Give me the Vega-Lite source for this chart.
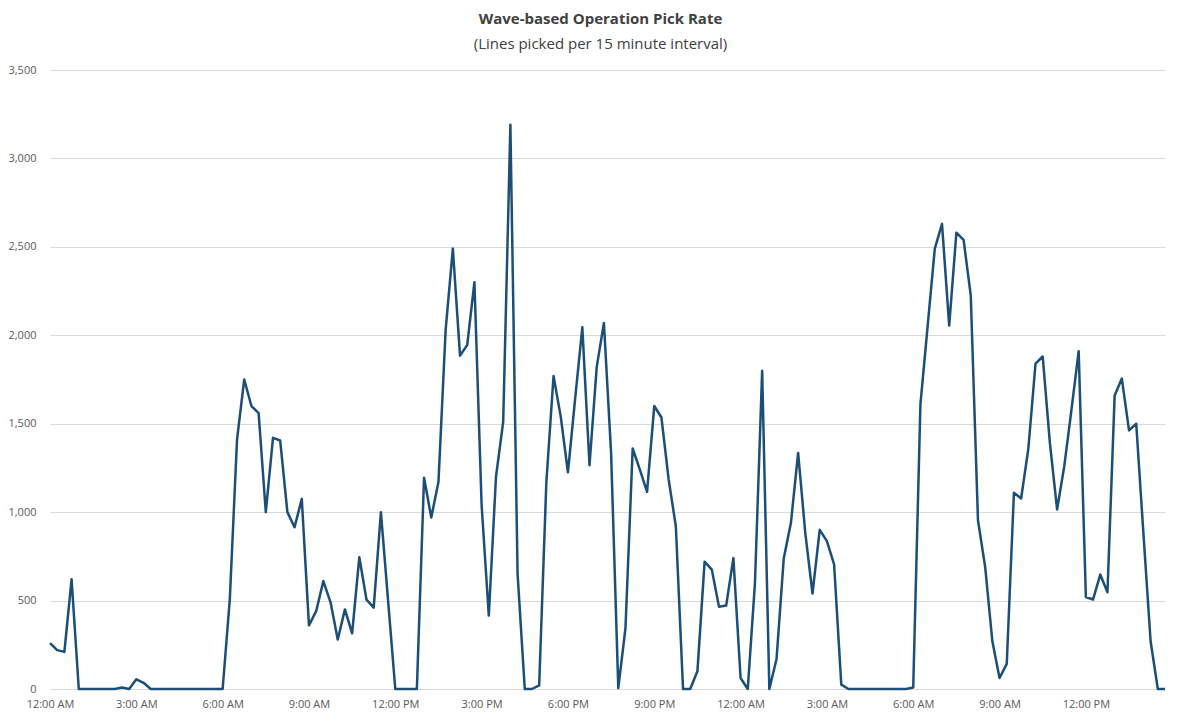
{
  "$schema": "https://vega.github.io/schema/vega-lite/v6.json",
  "width": 1115,
  "height": 619,
  "autosize": {"type": "none"},
  "padding": {"left": 50, "top": 70, "right": 35, "bottom": 33},
  "background": "white",
  "title": {
    "text": "Wave-based Operation Pick Rate",
    "subtitle": "(Lines picked per 15 minute interval)",
    "anchor": "middle",
    "frame": "group",
    "dx": -7,
    "font": "Open Sans",
    "fontSize": 15,
    "fontWeight": "bold",
    "color": "#404040",
    "subtitleFont": "Open Sans",
    "subtitleFontSize": 15,
    "subtitleColor": "#404040",
    "subtitlePadding": 10,
    "offset": 12
  },
  "data": {
    "values": [
      {"time": "2024-01-01T00:00:00Z", "lines": 260},
      {"time": "2024-01-01T00:15:00Z", "lines": 220},
      {"time": "2024-01-01T00:30:00Z", "lines": 210},
      {"time": "2024-01-01T00:45:00Z", "lines": 620},
      {"time": "2024-01-01T01:00:00Z", "lines": 0},
      {"time": "2024-01-01T01:15:00Z", "lines": 0},
      {"time": "2024-01-01T01:30:00Z", "lines": 0},
      {"time": "2024-01-01T01:45:00Z", "lines": 0},
      {"time": "2024-01-01T02:00:00Z", "lines": 0},
      {"time": "2024-01-01T02:15:00Z", "lines": 0},
      {"time": "2024-01-01T02:30:00Z", "lines": 8},
      {"time": "2024-01-01T02:45:00Z", "lines": 0},
      {"time": "2024-01-01T03:00:00Z", "lines": 55},
      {"time": "2024-01-01T03:15:00Z", "lines": 35},
      {"time": "2024-01-01T03:30:00Z", "lines": 0},
      {"time": "2024-01-01T03:45:00Z", "lines": 0},
      {"time": "2024-01-01T04:00:00Z", "lines": 0},
      {"time": "2024-01-01T04:15:00Z", "lines": 0},
      {"time": "2024-01-01T04:30:00Z", "lines": 0},
      {"time": "2024-01-01T04:45:00Z", "lines": 0},
      {"time": "2024-01-01T05:00:00Z", "lines": 0},
      {"time": "2024-01-01T05:15:00Z", "lines": 0},
      {"time": "2024-01-01T05:30:00Z", "lines": 0},
      {"time": "2024-01-01T05:45:00Z", "lines": 0},
      {"time": "2024-01-01T06:00:00Z", "lines": 0},
      {"time": "2024-01-01T06:15:00Z", "lines": 510},
      {"time": "2024-01-01T06:30:00Z", "lines": 1410},
      {"time": "2024-01-01T06:45:00Z", "lines": 1750},
      {"time": "2024-01-01T07:00:00Z", "lines": 1600},
      {"time": "2024-01-01T07:15:00Z", "lines": 1560},
      {"time": "2024-01-01T07:30:00Z", "lines": 1000},
      {"time": "2024-01-01T07:45:00Z", "lines": 1420},
      {"time": "2024-01-01T08:00:00Z", "lines": 1405},
      {"time": "2024-01-01T08:15:00Z", "lines": 1000},
      {"time": "2024-01-01T08:30:00Z", "lines": 915},
      {"time": "2024-01-01T08:45:00Z", "lines": 1075},
      {"time": "2024-01-01T09:00:00Z", "lines": 360},
      {"time": "2024-01-01T09:15:00Z", "lines": 440},
      {"time": "2024-01-01T09:30:00Z", "lines": 610},
      {"time": "2024-01-01T09:45:00Z", "lines": 490},
      {"time": "2024-01-01T10:00:00Z", "lines": 280},
      {"time": "2024-01-01T10:15:00Z", "lines": 450},
      {"time": "2024-01-01T10:30:00Z", "lines": 315},
      {"time": "2024-01-01T10:45:00Z", "lines": 745},
      {"time": "2024-01-01T11:00:00Z", "lines": 505},
      {"time": "2024-01-01T11:15:00Z", "lines": 460},
      {"time": "2024-01-01T11:30:00Z", "lines": 1000},
      {"time": "2024-01-01T11:45:00Z", "lines": 500},
      {"time": "2024-01-01T12:00:00Z", "lines": 0},
      {"time": "2024-01-01T12:15:00Z", "lines": 0},
      {"time": "2024-01-01T12:30:00Z", "lines": 0},
      {"time": "2024-01-01T12:45:00Z", "lines": 0},
      {"time": "2024-01-01T13:00:00Z", "lines": 1195},
      {"time": "2024-01-01T13:15:00Z", "lines": 970},
      {"time": "2024-01-01T13:30:00Z", "lines": 1170},
      {"time": "2024-01-01T13:45:00Z", "lines": 2030},
      {"time": "2024-01-01T14:00:00Z", "lines": 2490},
      {"time": "2024-01-01T14:15:00Z", "lines": 1885},
      {"time": "2024-01-01T14:30:00Z", "lines": 1945},
      {"time": "2024-01-01T14:45:00Z", "lines": 2300},
      {"time": "2024-01-01T15:00:00Z", "lines": 1040},
      {"time": "2024-01-01T15:15:00Z", "lines": 415},
      {"time": "2024-01-01T15:30:00Z", "lines": 1200},
      {"time": "2024-01-01T15:45:00Z", "lines": 1510},
      {"time": "2024-01-01T16:00:00Z", "lines": 3190},
      {"time": "2024-01-01T16:15:00Z", "lines": 650},
      {"time": "2024-01-01T16:30:00Z", "lines": 0},
      {"time": "2024-01-01T16:45:00Z", "lines": 0},
      {"time": "2024-01-01T17:00:00Z", "lines": 20},
      {"time": "2024-01-01T17:15:00Z", "lines": 1170},
      {"time": "2024-01-01T17:30:00Z", "lines": 1770},
      {"time": "2024-01-01T17:45:00Z", "lines": 1540},
      {"time": "2024-01-01T18:00:00Z", "lines": 1225},
      {"time": "2024-01-01T18:15:00Z", "lines": 1640},
      {"time": "2024-01-01T18:30:00Z", "lines": 2045},
      {"time": "2024-01-01T18:45:00Z", "lines": 1265},
      {"time": "2024-01-01T19:00:00Z", "lines": 1820},
      {"time": "2024-01-01T19:15:00Z", "lines": 2070},
      {"time": "2024-01-01T19:30:00Z", "lines": 1335},
      {"time": "2024-01-01T19:45:00Z", "lines": 5},
      {"time": "2024-01-01T20:00:00Z", "lines": 345},
      {"time": "2024-01-01T20:15:00Z", "lines": 1360},
      {"time": "2024-01-01T20:30:00Z", "lines": 1240},
      {"time": "2024-01-01T20:45:00Z", "lines": 1115},
      {"time": "2024-01-01T21:00:00Z", "lines": 1600},
      {"time": "2024-01-01T21:15:00Z", "lines": 1535},
      {"time": "2024-01-01T21:30:00Z", "lines": 1185},
      {"time": "2024-01-01T21:45:00Z", "lines": 920},
      {"time": "2024-01-01T22:00:00Z", "lines": 0},
      {"time": "2024-01-01T22:15:00Z", "lines": 0},
      {"time": "2024-01-01T22:30:00Z", "lines": 100},
      {"time": "2024-01-01T22:45:00Z", "lines": 720},
      {"time": "2024-01-01T23:00:00Z", "lines": 675},
      {"time": "2024-01-01T23:15:00Z", "lines": 465},
      {"time": "2024-01-01T23:30:00Z", "lines": 472},
      {"time": "2024-01-01T23:45:00Z", "lines": 740},
      {"time": "2024-01-02T00:00:00Z", "lines": 62},
      {"time": "2024-01-02T00:15:00Z", "lines": 0},
      {"time": "2024-01-02T00:30:00Z", "lines": 600},
      {"time": "2024-01-02T00:45:00Z", "lines": 1800},
      {"time": "2024-01-02T01:00:00Z", "lines": 0},
      {"time": "2024-01-02T01:15:00Z", "lines": 170},
      {"time": "2024-01-02T01:30:00Z", "lines": 738},
      {"time": "2024-01-02T01:45:00Z", "lines": 940},
      {"time": "2024-01-02T02:00:00Z", "lines": 1335},
      {"time": "2024-01-02T02:15:00Z", "lines": 880},
      {"time": "2024-01-02T02:30:00Z", "lines": 540},
      {"time": "2024-01-02T02:45:00Z", "lines": 900},
      {"time": "2024-01-02T03:00:00Z", "lines": 836},
      {"time": "2024-01-02T03:15:00Z", "lines": 704},
      {"time": "2024-01-02T03:30:00Z", "lines": 25},
      {"time": "2024-01-02T03:45:00Z", "lines": 0},
      {"time": "2024-01-02T04:00:00Z", "lines": 0},
      {"time": "2024-01-02T04:15:00Z", "lines": 0},
      {"time": "2024-01-02T04:30:00Z", "lines": 0},
      {"time": "2024-01-02T04:45:00Z", "lines": 0},
      {"time": "2024-01-02T05:00:00Z", "lines": 0},
      {"time": "2024-01-02T05:15:00Z", "lines": 0},
      {"time": "2024-01-02T05:30:00Z", "lines": 0},
      {"time": "2024-01-02T05:45:00Z", "lines": 0},
      {"time": "2024-01-02T06:00:00Z", "lines": 8},
      {"time": "2024-01-02T06:15:00Z", "lines": 1610},
      {"time": "2024-01-02T06:30:00Z", "lines": 2050},
      {"time": "2024-01-02T06:45:00Z", "lines": 2490},
      {"time": "2024-01-02T07:00:00Z", "lines": 2630},
      {"time": "2024-01-02T07:15:00Z", "lines": 2055},
      {"time": "2024-01-02T07:30:00Z", "lines": 2580},
      {"time": "2024-01-02T07:45:00Z", "lines": 2540},
      {"time": "2024-01-02T08:00:00Z", "lines": 2225},
      {"time": "2024-01-02T08:15:00Z", "lines": 955},
      {"time": "2024-01-02T08:30:00Z", "lines": 690},
      {"time": "2024-01-02T08:45:00Z", "lines": 270},
      {"time": "2024-01-02T09:00:00Z", "lines": 62},
      {"time": "2024-01-02T09:15:00Z", "lines": 142},
      {"time": "2024-01-02T09:30:00Z", "lines": 1110},
      {"time": "2024-01-02T09:45:00Z", "lines": 1077},
      {"time": "2024-01-02T10:00:00Z", "lines": 1358},
      {"time": "2024-01-02T10:15:00Z", "lines": 1840},
      {"time": "2024-01-02T10:30:00Z", "lines": 1880},
      {"time": "2024-01-02T10:45:00Z", "lines": 1390},
      {"time": "2024-01-02T11:00:00Z", "lines": 1015},
      {"time": "2024-01-02T11:15:00Z", "lines": 1260},
      {"time": "2024-01-02T11:30:00Z", "lines": 1580},
      {"time": "2024-01-02T11:45:00Z", "lines": 1910},
      {"time": "2024-01-02T12:00:00Z", "lines": 520},
      {"time": "2024-01-02T12:15:00Z", "lines": 506},
      {"time": "2024-01-02T12:30:00Z", "lines": 647},
      {"time": "2024-01-02T12:45:00Z", "lines": 547},
      {"time": "2024-01-02T13:00:00Z", "lines": 1660},
      {"time": "2024-01-02T13:15:00Z", "lines": 1755},
      {"time": "2024-01-02T13:30:00Z", "lines": 1462},
      {"time": "2024-01-02T13:45:00Z", "lines": 1500},
      {"time": "2024-01-02T14:00:00Z", "lines": 880},
      {"time": "2024-01-02T14:15:00Z", "lines": 270},
      {"time": "2024-01-02T14:30:00Z", "lines": 0},
      {"time": "2024-01-02T14:45:00Z", "lines": 0}
    ]
  },
  "mark": {"type": "line", "color": "#1c4f77", "strokeWidth": 2.5, "strokeJoin": "round"},
  "encoding": {
    "x": {
      "field": "time",
      "type": "temporal",
      "scale": {"type": "utc", "domain": [1704067200000, 1704206700000]},
      "axis": {
        "title": null,
        "tickCount": 13,
        "format": "%-I:%M %p",
        "grid": false,
        "domain": false,
        "ticks": false,
        "labelPadding": 9,
        "labelFont": "Open Sans",
        "labelFontSize": 11,
        "labelColor": "#595959",
        "labelFlush": false,
        "labelOverlap": false
      }
    },
    "y": {
      "field": "lines",
      "type": "quantitative",
      "scale": {"domain": [0, 3500]},
      "axis": {
        "title": null,
        "values": [0, 500, 1000, 1500, 2000, 2500, 3000, 3500],
        "format": ",.0f",
        "grid": true,
        "gridColor": "#d9d9d9",
        "gridWidth": 1,
        "domain": false,
        "ticks": false,
        "labelPadding": 14,
        "labelFont": "Open Sans",
        "labelFontSize": 11,
        "labelColor": "#595959"
      }
    }
  },
  "config": {"view": {"stroke": null}}
}
